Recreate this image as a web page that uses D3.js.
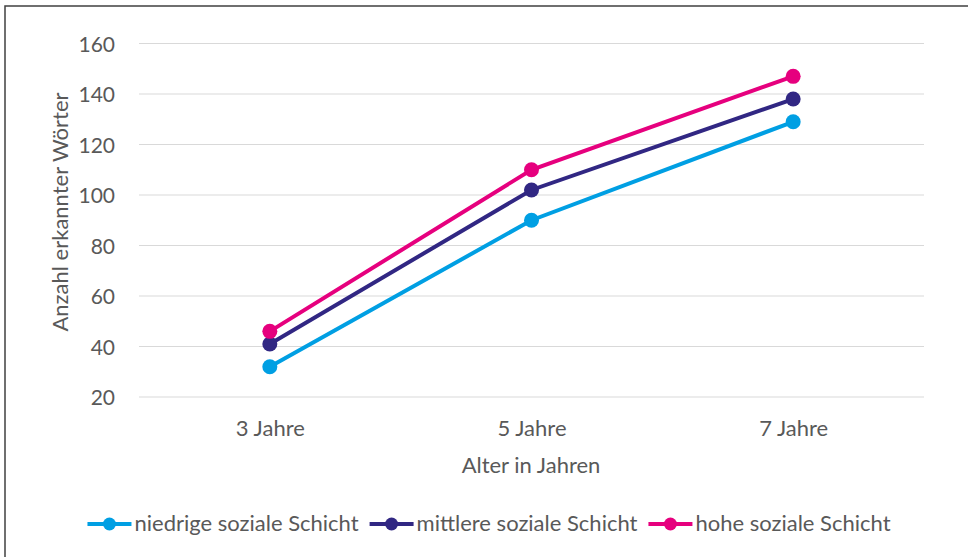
<!DOCTYPE html>
<html>
<head>
<meta charset="utf-8">
<script src="https://d3js.org/d3.v7.min.js"></script>
<style>
  html, body { margin: 0; padding: 0; background: #fff; }
  svg { display: block; }
  text { font-family: Lato, "Open Sans", sans-serif; fill: #595959; }
</style>
</head>
<body>
<svg id="chart" width="968" height="557"></svg>
<script>
// data
var categories = ["3 Jahre", "5 Jahre", "7 Jahre"];
var seriesNames = ["niedrige soziale Schicht", "mittlere soziale Schicht", "hohe soziale Schicht"];
var niedrig = [32, 90, 129];
var mittel = [41, 102, 138];
var hoch = [46, 110, 147];
var yTicks = [20, 40, 60, 80, 100, 120, 140, 160];
var colors = ["#009fe3", "#312783", "#e6007e"];

var series = [niedrig, mittel, hoch].map(function(vals, i) {
  return { name: seriesNames[i], color: colors[i],
    values: vals.map(function(v, j) { return { cat: categories[j], value: v }; }) };
});

var svg = d3.select("#chart");

// outer frame
svg.append("rect")
  .attr("x", 5).attr("y", 6)
  .attr("width", 975).attr("height", 560)
  .attr("fill", "none").attr("stroke", "#404040").attr("stroke-width", 1.5);

var x = d3.scalePoint().domain(categories).range([139, 924]).padding(0.5);
var y = d3.scaleLinear().domain([20, 160]).range([397, 43.5]);

// gridlines
svg.append("g").selectAll("line").data(yTicks).enter().append("line")
  .attr("x1", 139).attr("x2", 924)
  .attr("y1", function(d) { return y(d); })
  .attr("y2", function(d) { return y(d); })
  .attr("stroke", "#d9d9d9").attr("stroke-width", 1);

// y axis labels
var yAxis = svg.append("g")
  .attr("transform", "translate(130,0)")
  .call(d3.axisLeft(y).tickValues(yTicks).tickSize(0).tickPadding(15));
yAxis.select(".domain").remove();
yAxis.selectAll("text").style("font-size", "21px").attr("fill", "#595959").attr("dy", "0.36em");

// x axis labels
var xAxis = svg.append("g")
  .attr("transform", "translate(0,397)")
  .call(d3.axisBottom(x).tickSize(0).tickPadding(23));
xAxis.select(".domain").remove();
xAxis.selectAll("text").style("font-size", "22px").attr("fill", "#595959");

// axis titles
svg.append("text")
  .attr("x", 531).attr("y", 473)
  .attr("text-anchor", "middle")
  .style("font-size", "22px")
  .text("Alter in Jahren");

svg.append("text")
  .attr("transform", "translate(68,212) rotate(-90)")
  .attr("text-anchor", "middle")
  .style("font-size", "22px")
  .text("Anzahl erkannter Wörter");

// lines
var line = d3.line()
  .x(function(d) { return x(d.cat); })
  .y(function(d) { return y(d.value); });

var groups = svg.append("g").selectAll("g").data(series).enter().append("g");

groups.append("path")
  .attr("d", function(d) { return line(d.values); })
  .attr("fill", "none")
  .attr("stroke", function(d) { return d.color; })
  .attr("stroke-width", 4);

groups.selectAll("circle").data(function(d) {
    return d.values.map(function(v) { return { cat: v.cat, value: v.value, color: d.color }; });
  }).enter().append("circle")
  .attr("cx", function(d) { return x(d.cat); })
  .attr("cy", function(d) { return y(d.value); })
  .attr("r", 7.5)
  .attr("fill", function(d) { return d.color; });

// legend
var legY = 524;
var items = svg.append("g").selectAll("g").data(series).enter().append("g");
items.append("line")
  .attr("x1", 0).attr("x2", 44)
  .attr("y1", legY).attr("y2", legY)
  .attr("stroke", function(d) { return d.color; })
  .attr("stroke-width", 4);
items.append("circle")
  .attr("cx", 22).attr("cy", legY).attr("r", 6.5)
  .attr("fill", function(d) { return d.color; });
items.append("text")
  .attr("x", 47).attr("y", legY + 7)
  .style("font-size", "22px")
  .text(function(d) { return d.name; });

var widths = [];
items.each(function() {
  widths.push(47 + d3.select(this).select("text").node().getComputedTextLength());
});
var total = d3.sum(widths) + 11 * (widths.length - 1);
var pos = 489 - total / 2;
items.attr("transform", function(d, i) {
  var t = "translate(" + pos + ",0)";
  pos += widths[i] + 11;
  return t;
});
</script>
</body>
</html>
